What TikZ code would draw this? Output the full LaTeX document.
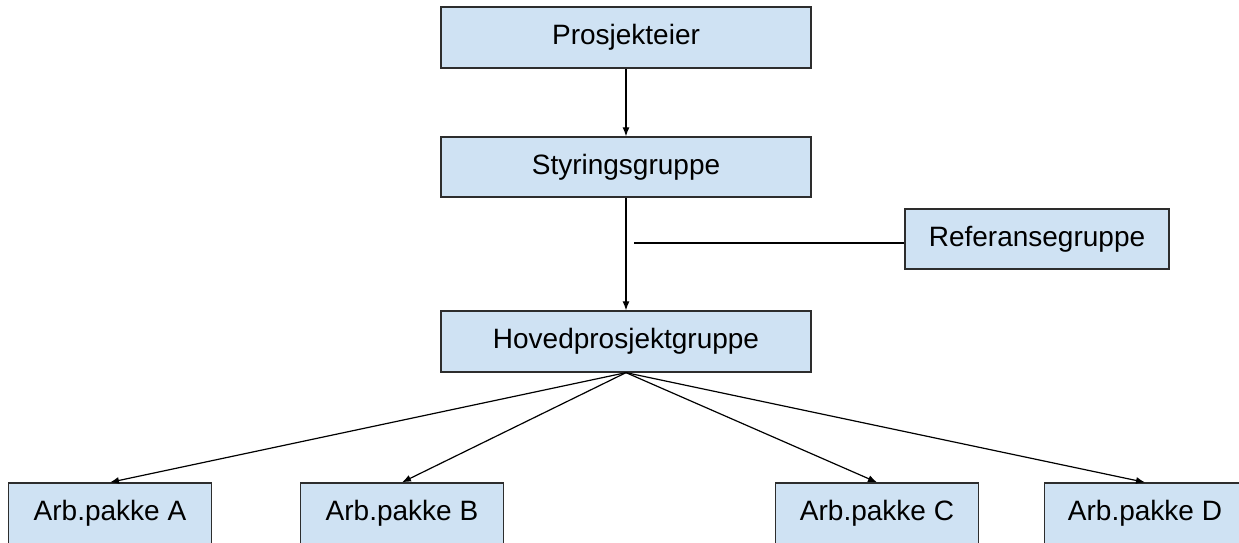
\documentclass[tikz,border=0pt]{standalone}
\usepackage{fontspec}
\setmainfont{Liberation Sans}
\usepackage{tikz}
\usetikzlibrary{arrows.meta}
\definecolor{boxblue}{RGB}{207,226,243}
\definecolor{boxline}{RGB}{45,45,45}

\begin{document}
\begin{tikzpicture}[x=1pt,y=1pt]
        \tikzstyle{main box}=[draw=boxline,line width=1.3pt,fill=boxblue,inner sep=0pt,
            minimum width=370pt,minimum height=61pt,font=\fontsize{28}{32}\selectfont]
        \tikzstyle{work box}=[main box,minimum width=203pt]
        \tikzstyle{link}=[draw=black,line width=1.2pt,-{Latex[length=9pt,width=7pt]}]
        \useasboundingbox (0,0) rectangle (1239,543);

        \node[main box] (owner) at (626,505.5) {Prosjekteier};
        \node[main box,minimum height=60pt] (steering) at (626,376) {Styringsgruppe};
        \node[main box] (mainproj) at (626,201.5) {Hovedprosjektgruppe};
        \node[main box,minimum width=264pt,minimum height=60pt] (reference) at (1037,304) {Referansegruppe};

        \node[work box] (wpA) at (110,29.5) {Arb.pakke A};
        \node[work box] (wpB) at (402,29.5) {Arb.pakke B};
        \node[work box] (wpC) at (877,29.5) {Arb.pakke C};
        \node[work box,minimum width=201pt] (wpD) at (1145,29.5) {Arb.pakke D\hspace{26pt}};

        \coordinate (refjoin) at (634,300);

        \draw[link] (owner) -- (steering);
        \draw[link] (steering) -- (mainproj);
        \draw[line width=1.2pt] (refjoin) -- (refjoin -| reference.west);
        \draw[link] (mainproj.south) -- (wpA.north);
        \draw[link] (mainproj.south) -- (wpB.north);
        \draw[link] (mainproj.south) -- (wpC.north);
        \draw[link] (mainproj.south) -- (wpD.north);
    \end{tikzpicture}
\end{document}
